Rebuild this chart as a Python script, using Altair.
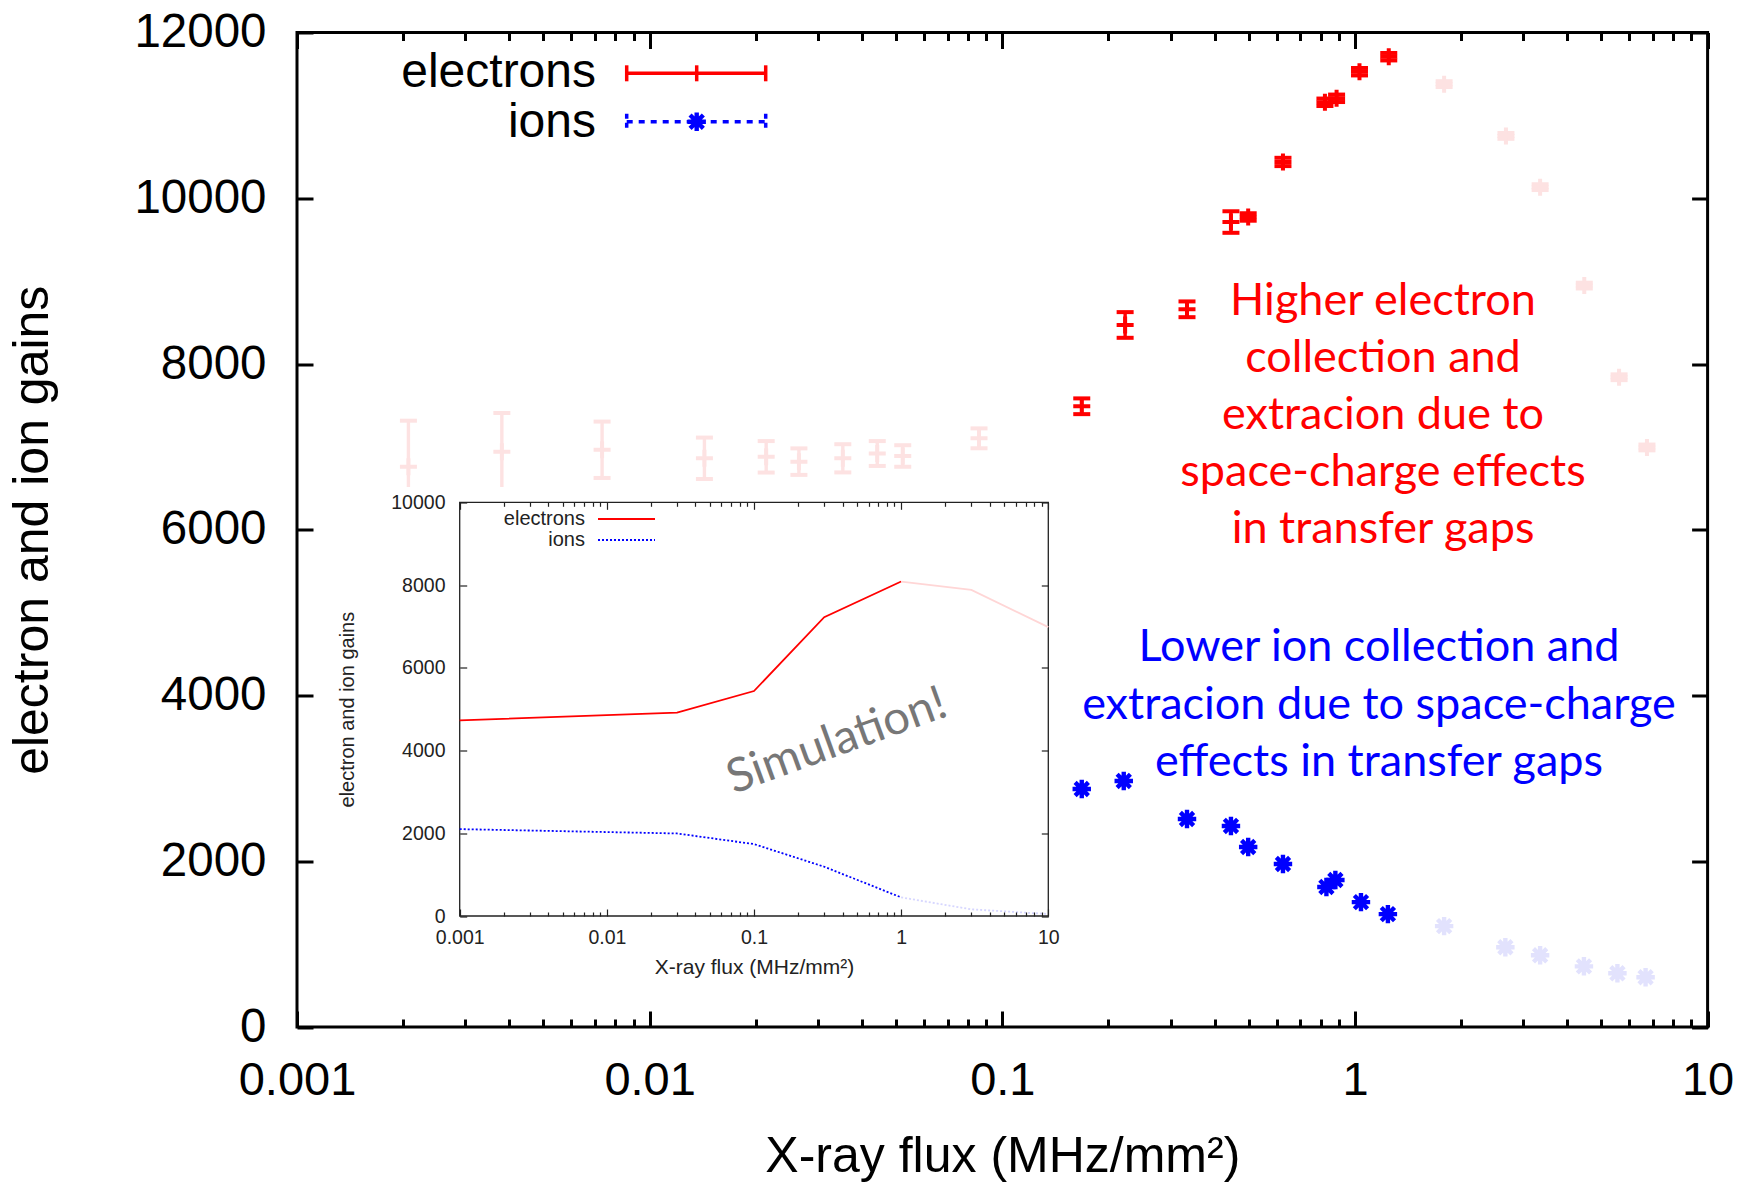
import altair as alt
import pandas as pd

# ---------------- data ----------------
electron_flux = [0.00207, 0.00381, 0.00733, 0.0143, 0.0214, 0.0265, 0.0353, 0.0442, 0.0522, 0.0859,
                 0.168, 0.223, 0.334, 0.445, 0.498, 0.625, 0.822, 0.887, 1.03, 1.247,
                 1.79, 2.68, 3.35, 4.47, 5.61, 6.73]
electron_gain = [6761, 6942, 6965, 6862, 6880, 6822, 6862, 6920, 6890, 7103,
                 7490, 8471, 8660, 9713, 9774, 10438, 11158, 11206, 11527, 11708,
                 11377, 10752, 10134, 8946, 7840, 6993]
electron_err = [555, 467, 340, 250, 190, 160, 170, 150, 130, 120,
                95, 155, 95, 130, 45, 50, 45, 45, 45, 45,
                35, 35, 35, 35, 35, 35]

ion_flux = [0.168, 0.221, 0.334, 0.445, 0.498, 0.625, 0.83, 0.88, 1.04, 1.24,
            1.79, 2.67, 3.35, 4.46, 5.55, 6.67]
ion_gain = [2872, 2969, 2510, 2426, 2172, 1967, 1690, 1774, 1507, 1362,
            1217, 962, 865, 732, 648, 600]

sim_flux = [0.001, 0.03, 0.1, 0.3, 1, 3, 10]
sim_electrons = [4730, 4915, 5438, 7224, 8085, 7884, 6983]
sim_ions = [2100, 1995, 1738, 1191, 450, 161, 48]

x_major = [0.001, 0.01, 0.1, 1, 10]
x_minor = [k * 10.0 ** e for e in range(-3, 1) for k in range(2, 10)]
y_major_main = list(range(0, 12001, 2000))
y_major_inset = list(range(0, 10001, 2000))

red_notes = ["Higher electron", "collection and", "extracion due to",
             "space-charge effects", "in transfer gaps"]
blue_notes = ["Lower ion collection and", "extracion due to space-charge",
              "effects in transfer gaps"]

# ---------------- layout ----------------
W, H = 1410.6, 994.5            # main plot area
PAD_L, PAD_T = 297, 32.5
X0, X1 = 162.7, 751.3           # inset plot area (relative to main plot)
Y0, Y1 = 469.8, 883.5
FONT = "Liberation Sans"
NOTE_FONT = "Lato"

e_df = pd.DataFrame({"flux": electron_flux, "gain": electron_gain, "err": electron_err})
i_df = pd.DataFrame({"flux": ion_flux, "gain": ion_gain})
s_df = pd.DataFrame({"flux": sim_flux, "electrons": sim_electrons, "ions": sim_ions})
frame_df = pd.DataFrame({"flux": [0.001, 10], "gain": [0, 10000]})
one = pd.DataFrame({"k": [0]})

main_x = alt.Scale(type="log", domain=[0.001, 10], nice=False)
main_y = alt.Scale(domain=[0, 12000], nice=False, zero=False)
ins_x = alt.Scale(type="log", domain=[0.001, 10], range=[X0, X1], nice=False)
ins_y = alt.Scale(domain=[0, 10000], range=[Y1, Y0], nice=False, zero=False)

status_domain = ["electrons measured", "electrons faded", "ions measured", "ions faded"]
status_range = ["#ff0000", "#fde2e2", "#0000ff", "#e2e2fd"]
color_enc = alt.Color("status:N", scale=alt.Scale(domain=status_domain, range=status_range), legend=None)
in_range = "datum.flux >= 0.1 && datum.flux <= 1.5"

x_axis_main = alt.Axis(values=x_major, format="~g", orient="bottom", offset=-16, tickSize=16,
                       tickWidth=3, tickColor="black", domain=False, grid=False,
                       labelPadding=30, labelFontSize=47, labelFont=FONT, labelColor="black",
                       labelFlush=False, labelOverlap=False, zindex=1,
                       title="X-ray flux (MHz/mm²)", titleFont=FONT, titleFontSize=50,
                       titleFontWeight="normal", titleColor="black", titlePadding=28)
y_axis_main = alt.Axis(values=y_major_main, format="d", orient="left", offset=-16, tickSize=16,
                       tickWidth=3, tickColor="black", domain=False, grid=False,
                       labelPadding=31, labelFontSize=47.5, labelFont=FONT, labelColor="black",
                       labelFlush=False, labelOverlap=False, zindex=1,
                       title="electron and ion gains", titleFont=FONT, titleFontSize=50,
                       titleFontWeight="normal", titleColor="black", titlePadding=76)

e_base = alt.Chart(e_df).transform_calculate(
    lo="datum.gain - datum.err", hi="datum.gain + datum.err",
    status=f"({in_range}) ? 'electrons measured' : 'electrons faded'")

ex = alt.X("flux:Q", scale=main_x, axis=None)
e_bars = e_base.mark_rule(strokeWidth=3.4).encode(
    x=alt.X("flux:Q", scale=main_x, axis=x_axis_main),
    y=alt.Y("lo:Q", scale=main_y, axis=y_axis_main),
    y2="hi:Q", color=color_enc)
cap = "M-1,0H1"
cross = "M-1,0H1M0,-1V1"
e_lo = e_base.mark_point(shape=cap, size=289, filled=False, strokeWidth=4, opacity=1).encode(
    x=ex, y=alt.Y("lo:Q", scale=main_y, axis=None), color=color_enc)
e_hi = e_base.mark_point(shape=cap, size=289, filled=False, strokeWidth=4, opacity=1).encode(
    x=ex, y=alt.Y("hi:Q", scale=main_y, axis=None), color=color_enc)
e_ctr = e_base.mark_point(shape=cross, size=289, filled=False, strokeWidth=4, opacity=1).encode(
    x=ex, y=alt.Y("gain:Q", scale=main_y, axis=None), color=color_enc)

star = "M-1,0H1M0,-1V1M-0.72,-0.72L0.72,0.72M-0.72,0.72L0.72,-0.72"
ions = alt.Chart(i_df).transform_calculate(
    status=f"({in_range}) ? 'ions measured' : 'ions faded'"
).mark_point(shape=star, size=340, filled=False, strokeWidth=4.4, opacity=1).encode(
    x=ex, y=alt.Y("gain:Q", scale=main_y, axis=None), color=color_enc)


def axis_only(xs, ys, xa, ya):
    return alt.Chart(frame_df).mark_point(opacity=0).encode(
        x=alt.X("flux:Q", scale=xs, axis=xa), y=alt.Y("gain:Q", scale=ys, axis=ya))


def tick_axis(orient, values, size, offset, width, color):
    return alt.Axis(orient=orient, values=values, tickSize=size, offset=offset, tickWidth=width,
                    tickColor=color, labels=False, domain=False, grid=False, title=None, zindex=1)


main_b = axis_only(main_x, main_y,
                   tick_axis("bottom", x_minor, 8, -8, 3, "black"),
                   tick_axis("right", y_major_main, 16, -16, 3, "black"))
main_c = axis_only(main_x, main_y, tick_axis("top", x_major, 16, -16, 3, "black"), None)
main_d = axis_only(main_x, main_y, tick_axis("top", x_minor, 8, -8, 3, "black"), None)

# inset background and frame
white_box = alt.Chart(one).mark_rect(fill="white").encode(
    x=alt.value(33), x2=alt.value(765), y=alt.value(454.5), y2=alt.value(957))
ins_frame = alt.Chart(one).mark_rect(fillOpacity=0, stroke="#222", strokeWidth=1.3).encode(
    x=alt.value(X0), x2=alt.value(X1), y=alt.value(Y0), y2=alt.value(Y1))

IB = -(H - Y1)
x_axis_ins = alt.Axis(values=x_major, format="~g", orient="bottom", offset=IB - 7, tickSize=7,
                      tickWidth=1.2, tickColor="#222", domain=False, grid=False,
                      labelPadding=12, labelFontSize=19.5, labelFont=FONT, labelColor="#222",
                      labelFlush=False, labelOverlap=False, zindex=1,
                      title="X-ray flux (MHz/mm²)", titleFont=FONT, titleFontSize=21,
                      titleFontWeight="normal", titleColor="#222", titlePadding=10)
y_axis_ins = alt.Axis(values=y_major_inset, format="d", orient="left", offset=-(X0 + 7), tickSize=7,
                      tickWidth=1.2, tickColor="#222", domain=False, grid=False,
                      labelPadding=14.7, labelFontSize=19.5, labelFont=FONT, labelColor="#222",
                      labelFlush=False, labelOverlap=False, zindex=1,
                      title="electron and ion gains", titleFont=FONT, titleFontSize=20,
                      titleFontWeight="normal", titleColor="#222", titlePadding=33)

s_on = alt.Chart(s_df).transform_filter("datum.flux <= 1")
s_off = alt.Chart(s_df).transform_filter("datum.flux >= 1")
ix = alt.X("flux:Q", scale=ins_x, axis=None)
sim_e_on = s_on.mark_line(color="#ff0000", strokeWidth=1.8).encode(
    x=alt.X("flux:Q", scale=ins_x, axis=x_axis_ins),
    y=alt.Y("electrons:Q", scale=ins_y, axis=y_axis_ins))
sim_e_off = s_off.mark_line(color="#ffd6d6", strokeWidth=1.8).encode(
    x=ix, y=alt.Y("electrons:Q", scale=ins_y, axis=None))
sim_i_on = s_on.mark_line(color="#0000ff", strokeWidth=1.8, strokeDash=[2, 2]).encode(
    x=ix, y=alt.Y("ions:Q", scale=ins_y, axis=None))
sim_i_off = s_off.mark_line(color="#d6d6ff", strokeWidth=1.8, strokeDash=[2, 2]).encode(
    x=ix, y=alt.Y("ions:Q", scale=ins_y, axis=None))

ins_b = axis_only(ins_x, ins_y,
                  tick_axis("bottom", x_minor, 4, IB - 4, 1.2, "#222"),
                  tick_axis("right", y_major_inset, 7, -(W - X1) - 7, 1.2, "#222"))
ins_c = axis_only(ins_x, ins_y, tick_axis("top", x_major, 7, -Y0 - 7, 1.2, "#222"), None)
ins_d = axis_only(ins_x, ins_y, tick_axis("top", x_minor, 4, -Y0 - 4, 1.2, "#222"), None)


def txt(s, x, y, size, color="black", font=FONT, align="center", angle=0):
    kw = dict(text=s, align=align, baseline="middle", fontSize=size, font=font, color=color)
    if angle:
        kw["angle"] = angle
    return alt.Chart(one).mark_text(**kw).encode(x=alt.value(x), y=alt.value(y))


def seg(x1, y1, x2=None, y2=None, color="black", width=1.0, dash=None):
    kw = dict(color=color, strokeWidth=width)
    if dash:
        kw["strokeDash"] = dash
    enc = dict(x=alt.value(x1), y=alt.value(y1))
    if x2 is not None:
        enc["x2"] = alt.value(x2)
    if y2 is not None:
        enc["y2"] = alt.value(y2)
    return alt.Chart(one).mark_rule(**kw).encode(**enc)


# inset legend
ins_legend = [
    txt("electrons", 288, 486.5, 20, "#222", align="right"),
    txt("ions", 288, 507.5, 20, "#222", align="right"),
    seg(301, 486.5, x2=358, color="#ff0000", width=1.8),
    seg(301, 507.5, x2=358, color="#0000ff", width=1.8, dash=[2, 2]),
]

# main legend
LX0, LX1, LXM = 329.7, 468.7, 399.7
LE, LI = 40.8, 89.2
main_legend = [
    txt("electrons", 299, LE, 48, align="right"),
    txt("ions", 299, LI + 1, 48, align="right"),
    seg(LX0, LE, x2=LX1, color="#ff0000", width=3.5),
    seg(LX0, LE - 8, y2=LE + 8, color="#ff0000", width=3.5),
    seg(LX1, LE - 8, y2=LE + 8, color="#ff0000", width=3.5),
    seg(LXM, LE - 8, y2=LE + 8, color="#ff0000", width=3.5),
    seg(LX0, LI, x2=LX1, color="#0000ff", width=3.5, dash=[6, 6]),
    seg(LX0, LI - 8, y2=LI + 8, color="#0000ff", width=3.5, dash=[5, 4]),
    seg(LX1, LI - 8, y2=LI + 8, color="#0000ff", width=3.5, dash=[5, 4]),
    alt.Chart(one).mark_point(shape=star, size=340, filled=False, strokeWidth=4.4,
                              color="#0000ff", opacity=1).encode(x=alt.value(LXM), y=alt.value(LI)),
]

notes = []
for i, s in enumerate(red_notes):
    notes.append(txt(s, 1086, 268 + 57.2 * i, 45, "#ff0000", font=NOTE_FONT))
for i, s in enumerate(blue_notes):
    notes.append(txt(s, 1082, 614.5 + 57.7 * i, 45, "#0000ff", font=NOTE_FONT))
notes.append(txt("Simulation!", 540, 709, 47, "#777777", font=NOTE_FONT, angle=340))

chart = alt.layer(
    e_bars, e_lo, e_hi, e_ctr, ions, main_b, main_c, main_d,
    white_box, ins_frame, sim_e_on, sim_e_off, sim_i_on, sim_i_off, ins_b, ins_c, ins_d,
    *ins_legend, *main_legend, *notes
).resolve_scale(x="independent", y="independent").properties(
    width=W, height=H,
    autosize=alt.AutoSizeParams(type="none"),
    padding={"left": PAD_L, "top": PAD_T, "right": 1758 - PAD_L - W, "bottom": 1196 - PAD_T - H},
).configure_view(stroke="black", strokeWidth=3)

chart.save("out.html", embed_options={"renderer": "svg", "actions": False})
